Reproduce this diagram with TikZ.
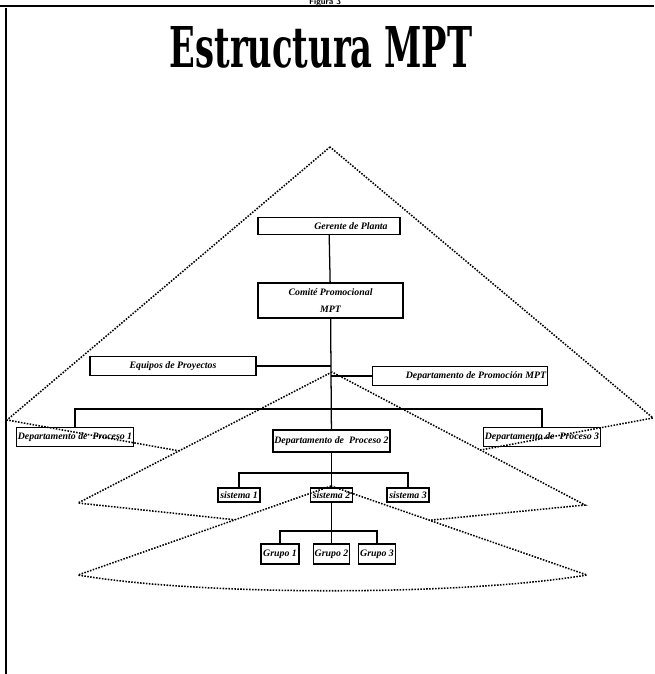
\documentclass[tikz,border=0pt]{standalone}
\usepackage{fontspec}
\newfontfamily\rotulo{Liberation Serif}
\newfontfamily\titulo{DejaVu Serif}
\begin{document}
\begin{tikzpicture}[ x=0.025cm, y=-0.025cm,
  caja/.style={ draw, line width=0.8pt, inner sep=1pt, font=\rotulo\bfseries\itshape\fontsize{7}{9}\selectfont },
  abanico/.style={ densely dotted, line width=1.1pt, fill=white },
  rama/.style={ line width=0.9pt } ]
  \useasboundingbox (0,0) rectangle (654,674);
  \draw [ line width=1.2pt ] (0,6)--(654,6);
  \draw [ line width=1.6pt ] (6,8)--(6,674);
  \node (figura) [ anchor=base, inner sep=0pt, font=\sffamily\bfseries\fontsize{6}{6}\selectfont ] at (325,5) { Figura 3 };
  \node (titulo) [ anchor=base, inner sep=0pt ] at (321,68) { \scalebox{0.6}[1]{\titulo\bfseries\fontsize{40}{40}\selectfont Estructura MPT} };

  \draw [ abanico ] (330,147)--(7,420)--(330,478)--(653,418)--cycle;
  \draw [ abanico ] (332,372)--(78,503)--(330,530)--(585,505)--cycle;
  \draw [ abanico ] (331,486)--(78,575) .. controls (200,596) and (460,596) .. (587,575)--cycle;

  \node (gerente) [ caja, minimum width=3.55cm, minimum height=0.425cm ] at (329,226) { \hspace{1.1cm}Gerente de Planta };
  \node (comite) [ caja, align=center, minimum width=3.625cm, minimum height=0.875cm ] at (330.5,300.5) { Comité Promocional \\[3pt] MPT };
  \node (equipos) [ caja, minimum width=4.15cm, minimum height=0.475cm ] at (173,366) { Equipos de Proyectos };
  \node (promocion) [ caja, minimum width=4.15cm, minimum height=0.475cm ] at (460,376) { \hspace{0.8cm}Departamento de Promoción MPT };
  \node (proc1) [ caja, minimum width=2.8cm, minimum height=0.475cm ] at (75,437) { Departamento de\ \ Proceso 1 };
  \node (proc2) [ caja, minimum width=2.85cm, minimum height=0.55cm ] at (331.5,441) { Departamento de\ \ Proceso 2 };
  \node (proc3) [ caja, minimum width=2.8cm, minimum height=0.475cm ] at (542,437) { Departamento de\ \ Proceso 3 };
  \node (sis1) [ caja, minimum width=1.05cm, minimum height=0.35cm ] at (239,495) { sistema 1 };
  \node (sis2) [ caja, minimum width=1.05cm, minimum height=0.35cm ] at (331.5,495) { sistema 2 };
  \node (sis3) [ caja, minimum width=1.05cm, minimum height=0.35cm ] at (408,495) { sistema 3 };
  \node (grupo1) [ caja, minimum width=0.95cm, minimum height=0.5cm ] at (280,554) { Grupo 1 };
  \node (grupo2) [ caja, minimum width=0.9cm, minimum height=0.5cm ] at (331.5,554) { Grupo 2 };
  \node (grupo3) [ caja, minimum width=0.92cm, minimum height=0.5cm ] at (377,554) { Grupo 3 };

  \coordinate (barra1) at (331,409);
  \coordinate (barra2) at (331,473);
  \coordinate (barra3) at (331,531);

  \draw [ rama ] (gerente)--(comite);
  \draw [ rama ] (comite)--(proc2);
  \draw [ rama ] (equipos.east)--(equipos.east -| comite.south);
  \draw [ rama ] (promocion.west)--(promocion.west -| comite.south);
  \draw [ rama ] (proc1.north) |- (barra1) -| (proc3.north);
  \draw [ rama ] (proc2)--(sis2);
  \draw [ rama ] (sis1.north) |- (barra2) -| (sis3.north);
  \draw [ rama ] (sis2)--(grupo2);
  \draw [ rama ] (grupo1.north) |- (barra3) -| (grupo3.north);
\end{tikzpicture}
\end{document}
